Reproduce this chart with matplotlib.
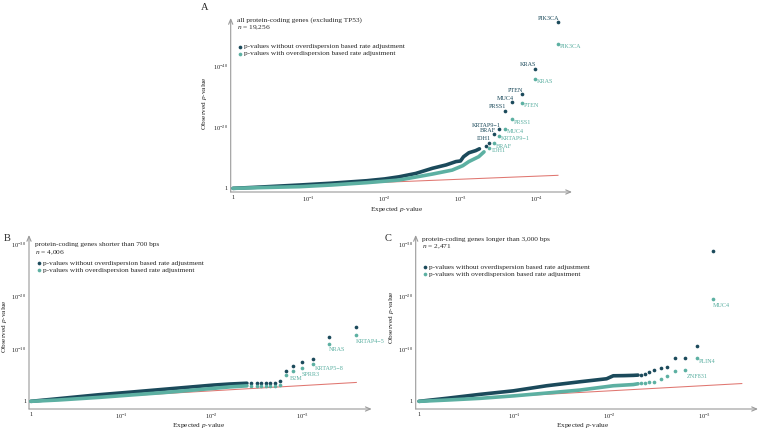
import matplotlib

matplotlib.use("Agg")
import matplotlib.pyplot as plt

plt.rcParams["font.family"] = ["Liberation Serif", "DejaVu Serif"]
plt.rcParams["mathtext.fontset"] = "custom"
plt.rcParams["mathtext.rm"] = "Liberation Serif"
plt.rcParams["mathtext.it"] = "Liberation Serif:italic"

DARK = "#1b4a5b"
TEAL = "#5cb0a2"
RED = "#e07670"
AXIS = "#9a9a9a"
TEXT = "#262626"

LEGEND_RAW = "p-values without overdispersion based rate adjustment"
LEGEND_ADJ = "p-values with overdispersion based rate adjustment"

# values are -log10(p); expected on x, observed on y
# panel A: all protein-coding genes (excluding TP53)
a_bulk_raw_x = [0, 0.3, 0.88, 1.3, 1.76, 2.0, 2.19, 2.41, 2.63, 2.81, 2.94, 3.0, 3.04, 3.11, 3.20, 3.25]
a_bulk_raw_y = [0, 0.35, 1.1, 1.7, 2.5, 3.1, 3.8, 4.9, 6.6, 7.7, 8.8, 9.0, 10.4, 11.7, 12.4, 13.0]
a_bulk_adj_x = [0, 0.3, 0.88, 1.3, 1.76, 2.19, 2.63, 2.89, 3.03, 3.11, 3.24, 3.31]
a_bulk_adj_y = [0, 0.2, 0.55, 1.1, 1.86, 2.74, 4.7, 6.0, 7.45, 8.8, 10.4, 12.0]
a_tail_raw_x = [4.285, 3.98, 3.81, 3.68, 3.585, 3.505, 3.44, 3.38, 3.33]
a_tail_raw_y = [54.6, 39.3, 31.0, 28.4, 25.5, 19.4, 17.8, 15.0, 14.0]
a_tail_adj_x = [4.285, 3.98, 3.81, 3.68, 3.585, 3.505, 3.44, 3.38]
a_tail_adj_y = [47.4, 35.9, 28.0, 22.7, 19.5, 17.2, 14.8, 13.2]
a_genes_raw = ["PIK3CA", "KRAS", "PTEN", "MUC4", "PRSS1", "KRTAP9\u22121", "BRAF", "IDH1"]
a_genes_adj = ["PIK3CA", "KRAS", "PTEN", "PRSS1", "MUC4", "KRTAP9\u22121", "BRAF", "IDH1"]
a_max_expected = 4.285

# panel B: genes shorter than 700 bps
b_bulk_raw_x = [0, 0.3, 0.76, 1.1, 1.5, 2.02, 2.2, 2.39]
b_bulk_raw_y = [0, 0.5, 1.27, 1.75, 2.34, 3.1, 3.3, 3.45]
b_bulk_adj_x = [0, 0.3, 0.76, 1.1, 1.5, 2.02, 2.2, 2.39]
b_bulk_adj_y = [0, 0.25, 0.76, 1.2, 1.71, 2.47, 2.75, 2.95]
b_tail_raw_x = [3.60, 3.30, 3.12, 3.00, 2.90, 2.82, 2.76, 2.70, 2.65, 2.60, 2.55, 2.50, 2.44]
b_tail_raw_y = [14.2, 12.3, 8.1, 7.5, 6.7, 5.8, 3.9, 3.48, 3.48, 3.48, 3.47, 3.46, 3.45]
b_tail_adj_x = [3.60, 3.30, 3.12, 3.00, 2.90, 2.82, 2.76, 2.70, 2.65, 2.60, 2.55, 2.50, 2.44]
b_tail_adj_y = [12.6, 11.0, 7.15, 6.3, 5.7, 5.1, 3.2, 2.97, 2.97, 2.97, 2.96, 2.96, 2.95]
b_genes_raw = []
b_genes_adj = ["KRTAP4\u22125", "NRAS", "KRTAP5\u22128", "SPRR3", "B2M"]
b_max_expected = 3.60

# panel C: genes longer than 3,000 bps (top gene lies above the plotted range)
c_bulk_raw_x = [0, 0.3, 0.64, 0.99, 1.34, 1.69, 1.97, 2.04, 2.15, 2.25, 2.3]
c_bulk_raw_y = [0, 0.6, 1.33, 2.0, 2.97, 3.73, 4.3, 4.87, 4.9, 4.95, 5.0]
c_bulk_adj_x = [0, 0.3, 0.64, 1.0, 1.34, 1.69, 2.04, 2.25, 2.3]
c_bulk_adj_y = [0, 0.25, 0.57, 1.05, 1.58, 2.15, 2.97, 3.2, 3.35]
c_tail_raw_x = [3.09, 2.92, 2.79, 2.69, 2.60, 2.54, 2.47, 2.42, 2.37, 2.33]
c_tail_raw_y = [28.7, 10.5, 8.35, 8.3, 6.5, 6.4, 6.0, 5.6, 5.2, 5.0]
c_tail_adj_x = [3.09, 2.92, 2.79, 2.69, 2.60, 2.54, 2.47, 2.42, 2.37, 2.33]
c_tail_adj_y = [19.5, 8.2, 5.9, 5.8, 4.85, 4.2, 3.7, 3.6, 3.5, 3.4]
c_genes_raw = []
c_genes_adj = ["MUC4", "PLIN4", "ZNF831"]
c_max_expected = 3.39

# label offsets (points) for the adjusted-series gene names
a_label_off = [(1.5, -2.0)] * 8
b_label_off = [(-0.5, -4.5), (-0.5, -4.5), (1.5, -3.5), (0.0, -4.5), (-2.5, -5.0)]
c_label_off = [(-0.5, -4.5), (1.5, -2.5), (1.5, -4.5)]

FS = 5.3


def exp_label(v):
    return "1" if v == 0 else r"$10^{-%d}$" % v


def draw_panel(fig, rect, xlim, ylim, xticks, yticks, letter, letter_xy,
               title, n_text, title_y, leg_y, bulk_raw, bulk_adj, tail_raw, tail_adj,
               genes_raw, genes_adj, max_exp, ylab_xy, xlab_xy, adj_off):
    ax = fig.add_axes(rect)
    for s in ax.spines.values():
        s.set_visible(False)
    ax.set_xlim(*xlim)
    ax.set_ylim(*ylim)

    arrow = dict(arrowstyle="->,head_length=0.35,head_width=0.15", color=AXIS, lw=0.8,
                 shrinkA=0, shrinkB=0)
    ax.annotate("", xy=(1, 0), xytext=(0, 0), xycoords="axes fraction", arrowprops=arrow)
    ax.annotate("", xy=(0, 1), xytext=(0, 0), xycoords="axes fraction", arrowprops=arrow)

    ax.set_xticks(xticks)
    ax.set_xticklabels([exp_label(v) for v in xticks])
    ax.set_yticks(yticks)
    ax.set_yticklabels([exp_label(v) for v in yticks])
    ax.tick_params(length=0, labelsize=4.6, colors=TEXT)
    ax.tick_params(axis="x", pad=2)
    ax.tick_params(axis="y", pad=2)

    ax.plot([0, max_exp], [0, max_exp], color=RED, lw=0.75, zorder=1)

    ax.plot(*bulk_raw, color=DARK, lw=2.6, solid_capstyle="round", zorder=2)
    ax.scatter(*tail_raw, s=7, color=DARK, linewidths=0, zorder=2)
    ax.plot(*bulk_adj, color=TEAL, lw=2.6, solid_capstyle="round", zorder=3)
    ax.scatter(*tail_adj, s=7, color=TEAL, linewidths=0, zorder=3)

    for g, x, y in zip(genes_raw, *tail_raw):
        ax.annotate(g, (x, y), xytext=(1.2, 2.8), textcoords="offset points",
                    ha="right", va="center", fontsize=4.4, color=DARK)
    for g, x, y, off in zip(genes_adj, *tail_adj, adj_off):
        ax.annotate(g, (x, y), xytext=off, textcoords="offset points",
                    ha="left", va="center", fontsize=4.4, color=TEAL)

    ax.text(0.018, title_y, title, transform=ax.transAxes, fontsize=FS, color=TEXT, va="center")
    ax.text(0.018, title_y - 0.046, n_text, transform=ax.transAxes, fontsize=FS, color=TEXT, va="center")
    for yy, col, lab in [(leg_y, DARK, LEGEND_RAW), (leg_y - 0.04, TEAL, LEGEND_ADJ)]:
        ax.scatter([0.028], [yy], s=7, color=col, linewidths=0, transform=ax.transAxes, clip_on=False)
        ax.text(0.04, yy, lab, transform=ax.transAxes, fontsize=FS, color=TEXT, va="center")

    ax.text(ylab_xy[0], ylab_xy[1], "Observed $p$-value", transform=ax.transAxes, rotation=90,
            ha="center", va="center", fontsize=FS, color=TEXT)
    ax.text(xlab_xy[0], xlab_xy[1], "Expected $p$-value", transform=ax.transAxes,
            ha="center", va="center", fontsize=FS, color=TEXT)
    fig.text(letter_xy[0] / 766, 1 - letter_xy[1] / 432, letter, fontsize=7.5, color=TEXT,
             ha="center", va="center")
    return ax


fig = plt.figure(figsize=(7.66, 4.32), dpi=100)
fig.patch.set_facecolor("white")

draw_panel(fig, [230.7 / 766, 1 - 192 / 432, 341.3 / 766, 174 / 432],
           (-0.03, 4.47), (-1.2, 56.0), [0, 1, 2, 3, 4], [0, 20, 40], "A", (205, 8),
           "all protein-coding genes (excluding TP53)", "$n$ = 19,256", 0.99, 0.835,
           (a_bulk_raw_x, a_bulk_raw_y), (a_bulk_adj_x, a_bulk_adj_y),
           (a_tail_raw_x, a_tail_raw_y), (a_tail_adj_x, a_tail_adj_y),
           a_genes_raw, a_genes_adj, a_max_expected, (-0.078, 0.51), (0.486, -0.1),
           a_label_off)

draw_panel(fig, [29 / 766, 1 - 409 / 432, 342.7 / 766, 174 / 432],
           (-0.02, 3.77), (-1.46, 31.7), [0, 1, 2, 3], [0, 10, 20, 30], "B", (7, 239),
           "protein-coding genes shorter than 700 bps", "$n$ = 4,006", 0.945, 0.838,
           (b_bulk_raw_x, b_bulk_raw_y), (b_bulk_adj_x, b_bulk_adj_y),
           (b_tail_raw_x, b_tail_raw_y), (b_tail_adj_x, b_tail_adj_y),
           b_genes_raw, b_genes_adj, b_max_expected, (-0.072, 0.476), (0.494, -0.095),
           b_label_off)

draw_panel(fig, [415.7 / 766, 1 - 409 / 432, 342.3 / 766, 174 / 432],
           (-0.035, 3.56), (-1.46, 31.7), [0, 1, 2, 3], [0, 10, 20, 30], "C", (388, 239),
           "protein-coding genes longer than 3,000 bps", "$n$ = 2,471", 0.975, 0.815,
           (c_bulk_raw_x, c_bulk_raw_y), (c_bulk_adj_x, c_bulk_adj_y),
           (c_tail_raw_x, c_tail_raw_y), (c_tail_adj_x, c_tail_adj_y),
           c_genes_raw, c_genes_adj, c_max_expected, (-0.072, 0.526), (0.488, -0.095),
           c_label_off)

fig.savefig("out.png", dpi=100, facecolor="white")
